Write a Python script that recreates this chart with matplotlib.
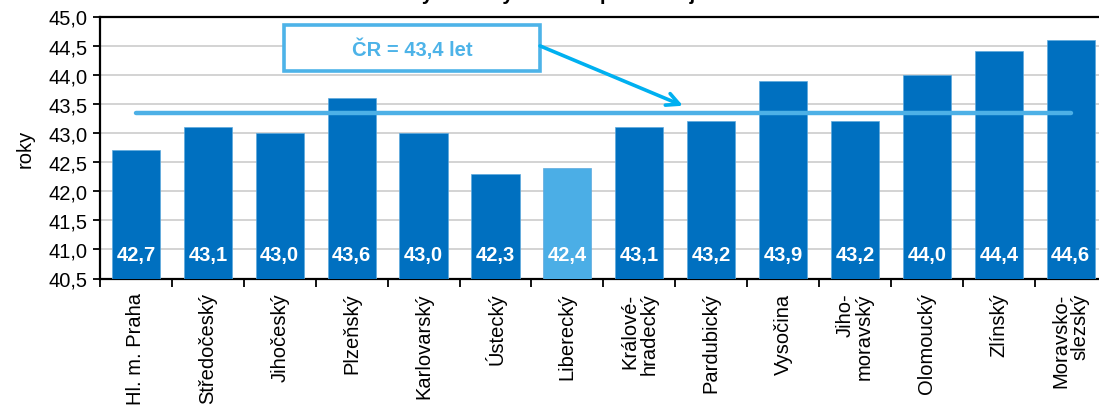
import matplotlib
matplotlib.use("Agg")
import matplotlib.pyplot as plt
from matplotlib.patches import Rectangle
from matplotlib.ticker import MultipleLocator, FixedLocator

plt.rcParams['font.family'] = ['Liberation Sans', 'DejaVu Sans']

categories = ["Hl. m. Praha", "Středočeský", "Jihočeský", "Plzeňský", "Karlovarský",
              "Ústecký", "Liberecký", "Královéhradecký", "Pardubický", "Vysočina",
              "Jihomoravský", "Olomoucký", "Zlínský", "Moravskoslezský"]
tick_labels = ["Hl. m. Praha", "Středočeský", "Jihočeský", "Plzeňský", "Karlovarský",
               "Ústecký", "Liberecký", "Králové-\nhradecký", "Pardubický", "Vysočina",
               "Jiho-\nmoravský", "Olomoucký", "Zlínský", "Moravsko-\nslezský"]
values = [42.7, 43.1, 43.0, 43.6, 43.0, 42.3, 42.4, 43.1, 43.2, 43.9, 43.2, 44.0, 44.4, 44.6]
value_labels = ["42,7", "43,1", "43,0", "43,6", "43,0", "42,3", "42,4", "43,1", "43,2",
                "43,9", "43,2", "44,0", "44,4", "44,6"]
highlight = "Liberecký"
cr_line = 43.35
cr_text = "ČR = 43,4 let"
title = "Průměrný věk obyvatel ČR podle krajů k 31. 12. 2023"

DARK = "#0070C0"
LIGHT = "#4BAEE6"
ARROW = "#00B0F0"

fig = plt.figure(figsize=(10.99, 4.10), dpi=100)
ax = fig.add_axes([100/1099, (410-279.5)/410, 1006.6/1099, (279.5-17.5)/410])

x = list(range(len(categories)))
colors = [LIGHT if c == highlight else DARK for c in categories]
ax.bar(x, [v - 40.5 for v in values], bottom=40.5, width=0.67, color=colors,
       edgecolor="#5DA9DD", linewidth=0.5, zorder=3)

for xi, lab in zip(x, value_labels):
    ax.text(xi, 40.81, lab, ha="center", va="baseline", color="white",
            fontsize=14.5, fontweight="bold", zorder=5)

ax.plot([x[0], x[-1]], [cr_line, cr_line], color="#4DB0E6", linewidth=3.2,
        solid_capstyle="round", zorder=4)

ax.set_xlim(-0.5, len(categories) - 0.5)
ax.set_ylim(40.5, 45.0)
ax.yaxis.set_major_locator(MultipleLocator(0.5))
ax.set_yticklabels([f"{t:.1f}".replace(".", ",") for t in ax.get_yticks()])
ax.grid(axis="y", color="#C8C8C8", linewidth=1.1, zorder=0)
ax.set_axisbelow(True)

ax.set_xticks(x)
ax.set_xticklabels(tick_labels, rotation=90, ha="center", va="top",
                   multialignment="right", fontsize=14.5, linespacing=1.0)
ax.xaxis.set_minor_locator(FixedLocator([i - 0.5 for i in range(len(categories) + 1)]))
ax.tick_params(axis="x", which="major", length=0, pad=10)
ax.tick_params(axis="x", which="minor", length=6, width=1.3, direction="out")
ax.tick_params(axis="y", which="major", length=5, width=1.3, direction="out",
               labelsize=14.5, pad=4)

for s in ["left", "bottom", "top"]:
    ax.spines[s].set_color("black")
    ax.spines[s].set_linewidth(1.6)
ax.spines["right"].set_visible(False)

ax.set_ylabel("roky", fontsize=14.5, labelpad=10)

# annotation box
box = Rectangle((2.06, 44.067), 5.62 - 2.06, 44.854 - 44.067, facecolor="white",
                edgecolor="#4DB3E8", linewidth=2.6, zorder=6)
ax.add_patch(box)
ax.text((2.06 + 5.62) / 2, (44.067 + 44.854) / 2, cr_text, ha="center", va="center",
        color="#4DB3E8", fontsize=14.5, fontweight="bold", zorder=7)
ax.annotate("", xy=(7.608, 43.467), xytext=(5.62, 44.495),
            arrowprops=dict(arrowstyle="->,head_length=0.9,head_width=0.45",
                            color=ARROW, linewidth=2.6, shrinkA=0, shrinkB=0),
            zorder=6)

fig.text(0.537, 1.0 + 0.5/410, title, ha="center", va="baseline",
         fontsize=14.5, fontweight="bold")

fig.savefig("out.png", dpi=100)
